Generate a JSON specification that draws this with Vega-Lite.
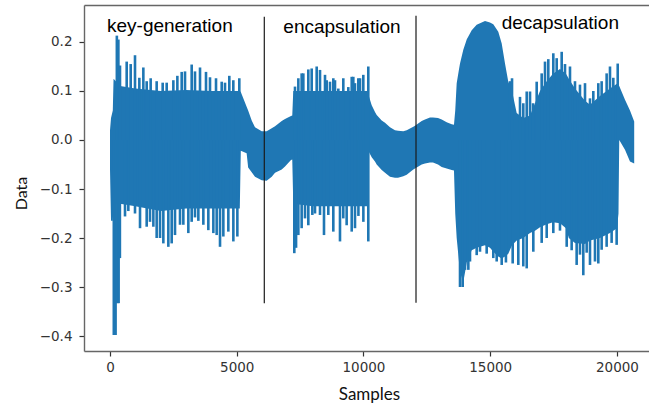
{
  "$schema": "https://vega.github.io/schema/vega-lite/v6.json",
  "width": 565,
  "height": 346,
  "autosize": {"type": "none"},
  "padding": {"left": 84, "top": 5, "right": 0, "bottom": 52},
  "background": "white",
  "config": {
    "view": {"stroke": null},
    "axis": {
      "labelFont": "DejaVu Sans",
      "labelFontSize": 13.5,
      "labelColor": "#333333",
      "tickColor": "#333333",
      "tickSize": 5,
      "tickWidth": 1.2,
      "domainColor": "#666666",
      "domainWidth": 1.4,
      "grid": false,
      "titleFont": "Lato",
      "titleFontWeight": "normal",
      "titleColor": "#111111",
      "titleFontSize": 16.5
    }
  },
  "datasets": {
    "envelope": [
      {"s": 0, "hi": 0.02, "lo": -0.06},
      {"s": 40, "hi": 0.045, "lo": -0.165},
      {"s": 110, "hi": 0.06, "lo": -0.165},
      {"s": 140, "hi": 0.125, "lo": -0.13},
      {"s": 400, "hi": 0.11, "lo": -0.13},
      {"s": 1000, "hi": 0.105, "lo": -0.135},
      {"s": 2000, "hi": 0.1, "lo": -0.145},
      {"s": 3000, "hi": 0.102, "lo": -0.14},
      {"s": 4000, "hi": 0.1, "lo": -0.14},
      {"s": 5120, "hi": 0.1, "lo": -0.14},
      {"s": 5160, "hi": 0.098, "lo": -0.022},
      {"s": 5390, "hi": 0.068, "lo": -0.027},
      {"s": 5450, "hi": 0.06, "lo": -0.056},
      {"s": 5590, "hi": 0.04, "lo": -0.066},
      {"s": 5720, "hi": 0.026, "lo": -0.075},
      {"s": 5985, "hi": 0.018, "lo": -0.082},
      {"s": 6180, "hi": 0.018, "lo": -0.083},
      {"s": 6380, "hi": 0.024, "lo": -0.075},
      {"s": 6510, "hi": 0.028, "lo": -0.067},
      {"s": 6775, "hi": 0.039, "lo": -0.06},
      {"s": 6904, "hi": 0.043, "lo": -0.054},
      {"s": 7140, "hi": 0.049, "lo": -0.041},
      {"s": 7190, "hi": 0.05, "lo": -0.04},
      {"s": 7230, "hi": 0.1, "lo": -0.13},
      {"s": 8000, "hi": 0.1, "lo": -0.135},
      {"s": 9000, "hi": 0.1, "lo": -0.135},
      {"s": 10160, "hi": 0.1, "lo": -0.135},
      {"s": 10210, "hi": 0.09, "lo": -0.024},
      {"s": 10324, "hi": 0.071, "lo": -0.035},
      {"s": 10454, "hi": 0.057, "lo": -0.044},
      {"s": 10521, "hi": 0.051, "lo": -0.05},
      {"s": 10719, "hi": 0.04, "lo": -0.061},
      {"s": 10849, "hi": 0.035, "lo": -0.067},
      {"s": 11046, "hi": 0.026, "lo": -0.075},
      {"s": 11243, "hi": 0.02, "lo": -0.077},
      {"s": 11362, "hi": 0.019, "lo": -0.077},
      {"s": 11571, "hi": 0.018, "lo": -0.074},
      {"s": 11705, "hi": 0.02, "lo": -0.071},
      {"s": 11965, "hi": 0.027, "lo": -0.06},
      {"s": 12032, "hi": 0.029, "lo": -0.058},
      {"s": 12297, "hi": 0.039, "lo": -0.05},
      {"s": 12427, "hi": 0.042, "lo": -0.048},
      {"s": 12624, "hi": 0.046, "lo": -0.046},
      {"s": 12742, "hi": 0.046, "lo": -0.046},
      {"s": 12940, "hi": 0.045, "lo": -0.05},
      {"s": 13086, "hi": 0.042, "lo": -0.055},
      {"s": 13283, "hi": 0.036, "lo": -0.058},
      {"s": 13480, "hi": 0.032, "lo": -0.061},
      {"s": 13570, "hi": 0.031, "lo": -0.062},
      {"s": 13620, "hi": 0.06, "lo": -0.15},
      {"s": 13677, "hi": 0.116, "lo": -0.2},
      {"s": 13770, "hi": 0.145, "lo": -0.25},
      {"s": 13808, "hi": 0.156, "lo": -0.27},
      {"s": 13938, "hi": 0.184, "lo": -0.29},
      {"s": 14040, "hi": 0.2, "lo": -0.26},
      {"s": 14072, "hi": 0.205, "lo": -0.25},
      {"s": 14270, "hi": 0.224, "lo": -0.225},
      {"s": 14466, "hi": 0.235, "lo": -0.22},
      {"s": 14794, "hi": 0.243, "lo": -0.215},
      {"s": 14991, "hi": 0.24, "lo": -0.22},
      {"s": 15121, "hi": 0.236, "lo": -0.228},
      {"s": 15318, "hi": 0.221, "lo": -0.238},
      {"s": 15453, "hi": 0.197, "lo": -0.242},
      {"s": 15583, "hi": 0.156, "lo": -0.238},
      {"s": 15713, "hi": 0.119, "lo": -0.232},
      {"s": 15860, "hi": 0.1, "lo": -0.215},
      {"s": 16044, "hi": 0.055, "lo": -0.205},
      {"s": 16300, "hi": 0.045, "lo": -0.2},
      {"s": 16570, "hi": 0.05, "lo": -0.19},
      {"s": 16766, "hi": 0.075, "lo": -0.185},
      {"s": 16964, "hi": 0.1, "lo": -0.178},
      {"s": 17228, "hi": 0.12, "lo": -0.172},
      {"s": 17476, "hi": 0.135, "lo": -0.168},
      {"s": 17752, "hi": 0.145, "lo": -0.17},
      {"s": 17989, "hi": 0.135, "lo": -0.18},
      {"s": 18100, "hi": 0.125, "lo": -0.2},
      {"s": 18344, "hi": 0.105, "lo": -0.21},
      {"s": 18739, "hi": 0.08, "lo": -0.212},
      {"s": 18936, "hi": 0.072, "lo": -0.205},
      {"s": 19330, "hi": 0.09, "lo": -0.2},
      {"s": 19725, "hi": 0.105, "lo": -0.19},
      {"s": 20000, "hi": 0.115, "lo": -0.18},
      {"s": 20060, "hi": 0.112, "lo": -0.15},
      {"s": 20090, "hi": 0.11, "lo": 0.0},
      {"s": 20317, "hi": 0.082, "lo": -0.02},
      {"s": 20514, "hi": 0.06, "lo": -0.044},
      {"s": 20680, "hi": 0.038, "lo": -0.048}
    ],
    "spikes": [
      {"s": 270, "v": 0.213}, {"s": 330, "v": 0.205}, {"s": 394, "v": 0.152},
      {"s": 658, "v": 0.16}, {"s": 816, "v": 0.155}, {"s": 986, "v": 0.173},
      {"s": 1157, "v": 0.127}, {"s": 1315, "v": 0.148}, {"s": 1447, "v": 0.12},
      {"s": 1604, "v": 0.126}, {"s": 1841, "v": 0.12}, {"s": 2078, "v": 0.117},
      {"s": 2236, "v": 0.117}, {"s": 2499, "v": 0.122}, {"s": 2657, "v": 0.131},
      {"s": 2828, "v": 0.139}, {"s": 2959, "v": 0.14}, {"s": 3222, "v": 0.154},
      {"s": 3353, "v": 0.14}, {"s": 3551, "v": 0.148}, {"s": 3787, "v": 0.139},
      {"s": 3945, "v": 0.128}, {"s": 4182, "v": 0.126}, {"s": 4406, "v": 0.119},
      {"s": 4537, "v": 0.117}, {"s": 4707, "v": 0.131}, {"s": 4865, "v": 0.122},
      {"s": 5101, "v": 0.126},
      {"s": 150, "v": -0.398}, {"s": 220, "v": -0.398}, {"s": 290, "v": -0.333},
      {"s": 340, "v": -0.333}, {"s": 390, "v": -0.241}, {"s": 592, "v": -0.156},
      {"s": 723, "v": -0.145}, {"s": 986, "v": -0.15}, {"s": 1184, "v": -0.18},
      {"s": 1447, "v": -0.177}, {"s": 1578, "v": -0.167}, {"s": 1710, "v": -0.177},
      {"s": 1841, "v": -0.2}, {"s": 1973, "v": -0.2}, {"s": 2104, "v": -0.211},
      {"s": 2301, "v": -0.218}, {"s": 2433, "v": -0.211}, {"s": 2564, "v": -0.194},
      {"s": 2762, "v": -0.173}, {"s": 2893, "v": -0.173}, {"s": 3090, "v": -0.19},
      {"s": 3222, "v": -0.167}, {"s": 3353, "v": -0.158}, {"s": 3485, "v": -0.165},
      {"s": 3682, "v": -0.173}, {"s": 3879, "v": -0.184}, {"s": 4077, "v": -0.19},
      {"s": 4208, "v": -0.194}, {"s": 4340, "v": -0.218}, {"s": 4471, "v": -0.197},
      {"s": 4668, "v": -0.187}, {"s": 4866, "v": -0.207}, {"s": 5024, "v": -0.197},
      {"s": 7298, "v": 0.109}, {"s": 7430, "v": 0.126}, {"s": 7561, "v": 0.136},
      {"s": 7627, "v": 0.136}, {"s": 7824, "v": 0.144}, {"s": 7956, "v": 0.146},
      {"s": 8154, "v": 0.15}, {"s": 8285, "v": 0.143}, {"s": 8482, "v": 0.133},
      {"s": 8548, "v": 0.122}, {"s": 8679, "v": 0.119}, {"s": 8810, "v": 0.126},
      {"s": 8876, "v": 0.122}, {"s": 9007, "v": 0.105}, {"s": 9204, "v": 0.126},
      {"s": 9401, "v": 0.108}, {"s": 9536, "v": 0.129}, {"s": 9599, "v": 0.129},
      {"s": 9665, "v": 0.116}, {"s": 9796, "v": 0.126}, {"s": 9863, "v": 0.126},
      {"s": 9993, "v": 0.133}, {"s": 10190, "v": 0.15},
      {"s": 7271, "v": -0.231}, {"s": 7340, "v": -0.22}, {"s": 7430, "v": -0.194},
      {"s": 7561, "v": -0.18}, {"s": 7693, "v": -0.16}, {"s": 7824, "v": -0.174},
      {"s": 7982, "v": -0.153}, {"s": 8087, "v": -0.15}, {"s": 8285, "v": -0.153},
      {"s": 8442, "v": -0.194}, {"s": 8612, "v": -0.153}, {"s": 8810, "v": -0.187},
      {"s": 9073, "v": -0.207}, {"s": 9204, "v": -0.16}, {"s": 9336, "v": -0.174},
      {"s": 9536, "v": -0.187}, {"s": 9665, "v": -0.18}, {"s": 9800, "v": -0.155},
      {"s": 9995, "v": -0.167}, {"s": 10190, "v": -0.207},
      {"s": 15780, "v": 0.12}, {"s": 15860, "v": 0.126}, {"s": 16175, "v": 0.088},
      {"s": 16305, "v": 0.075}, {"s": 16440, "v": 0.099}, {"s": 16570, "v": 0.099},
      {"s": 16690, "v": 0.075}, {"s": 16833, "v": 0.119}, {"s": 17030, "v": 0.136},
      {"s": 17161, "v": 0.16}, {"s": 17291, "v": 0.165}, {"s": 17489, "v": 0.177},
      {"s": 17622, "v": 0.167}, {"s": 17819, "v": 0.18}, {"s": 17950, "v": 0.155},
      {"s": 18147, "v": 0.15}, {"s": 18344, "v": 0.12}, {"s": 18541, "v": 0.113},
      {"s": 18739, "v": 0.116}, {"s": 18936, "v": 0.085}, {"s": 19067, "v": 0.1},
      {"s": 19264, "v": 0.116}, {"s": 19396, "v": 0.12}, {"s": 19593, "v": 0.136},
      {"s": 19725, "v": 0.15}, {"s": 19856, "v": 0.127}, {"s": 20030, "v": 0.156},
      {"s": 13808, "v": -0.3}, {"s": 13914, "v": -0.3}, {"s": 14005, "v": -0.265},
      {"s": 14137, "v": -0.265}, {"s": 14202, "v": -0.248}, {"s": 14466, "v": -0.235},
      {"s": 14597, "v": -0.228}, {"s": 14860, "v": -0.232}, {"s": 15121, "v": -0.241},
      {"s": 15255, "v": -0.248}, {"s": 15453, "v": -0.255}, {"s": 15620, "v": -0.25},
      {"s": 15886, "v": -0.252}, {"s": 16108, "v": -0.255}, {"s": 16305, "v": -0.258},
      {"s": 16440, "v": -0.262}, {"s": 16700, "v": -0.228}, {"s": 17030, "v": -0.21},
      {"s": 17228, "v": -0.2}, {"s": 17489, "v": -0.19}, {"s": 17752, "v": -0.185},
      {"s": 18017, "v": -0.218}, {"s": 18213, "v": -0.225}, {"s": 18410, "v": -0.255},
      {"s": 18541, "v": -0.234}, {"s": 18672, "v": -0.276}, {"s": 18805, "v": -0.23},
      {"s": 18936, "v": -0.255}, {"s": 19133, "v": -0.248}, {"s": 19264, "v": -0.252},
      {"s": 19396, "v": -0.224}, {"s": 19593, "v": -0.218}, {"s": 19790, "v": -0.21},
      {"s": 19988, "v": -0.214}
    ],
    "phases": [
      {"s": 6087, "top": 0.2517, "bottom": -0.3333},
      {"s": 12072, "top": 0.2537, "bottom": -0.332}
    ],
    "labels": [
      {"label": "key-generation", "s": -118, "v": 0.221},
      {"label": "encapsulation", "s": 6837, "v": 0.218},
      {"label": "decapsulation", "s": 15453, "v": 0.226}
    ]
  },
  "layer": [
    {
      "data": {"name": "envelope"},
      "mark": {"type": "area", "color": "#1f77b4", "opacity": 1, "interpolate": "linear"},
      "encoding": {
        "x": {
          "field": "s", "type": "quantitative",
          "scale": {"domain": [-1026, 21264], "nice": false, "zero": false},
          "axis": {"values": [0, 5000, 10000, 15000, 20000], "format": "d", "title": "Samples",
                   "labelPadding": 4, "titleBaseline": "alphabetic", "titleX": 285, "titleY": 48, "titleFontSize": 17}
        },
        "y": {
          "field": "hi", "type": "quantitative",
          "scale": {"domain": [-0.4306, 0.2755], "nice": false, "zero": false},
          "axis": {"values": [-0.4, -0.3, -0.2, -0.1, 0, 0.1, 0.2], "format": ".1f", "title": "Data",
                   "labelPadding": 7, "titleBaseline": "alphabetic", "titleX": -58, "titleY": 188, "titleFontSize": 16}
        },
        "y2": {"field": "lo"}
      }
    },
    {
      "data": {"name": "spikes"},
      "mark": {"type": "rule", "color": "#1f77b4", "strokeWidth": 2.6},
      "encoding": {
        "x": {"field": "s", "type": "quantitative", "scale": {"domain": [-1026, 21264], "nice": false, "zero": false}, "axis": null},
        "y": {"field": "v", "type": "quantitative", "scale": {"domain": [-0.4306, 0.2755], "nice": false, "zero": false}},
        "y2": {"datum": 0}
      }
    },
    {
      "data": {"name": "phases"},
      "mark": {"type": "rule", "color": "#1a1a1a", "strokeWidth": 1.2},
      "encoding": {
        "x": {"field": "s", "type": "quantitative", "scale": {"domain": [-1026, 21264], "nice": false, "zero": false},
              "axis": {"orient": "top", "labels": false, "ticks": false, "title": null, "domain": true}},
        "y": {"field": "top", "type": "quantitative", "scale": {"domain": [-0.4306, 0.2755], "nice": false, "zero": false}},
        "y2": {"field": "bottom"}
      }
    },
    {
      "data": {"name": "labels"},
      "mark": {"type": "text", "align": "left", "baseline": "alphabetic", "font": "Liberation Sans", "fontSize": 19, "color": "#000000"},
      "encoding": {
        "x": {"field": "s", "type": "quantitative", "scale": {"domain": [-1026, 21264], "nice": false, "zero": false}, "axis": null},
        "y": {"field": "v", "type": "quantitative", "scale": {"domain": [-0.4306, 0.2755], "nice": false, "zero": false}},
        "text": {"field": "label"}
      }
    }
  ],
  "resolve": {"axis": {"x": "independent"}}
}
